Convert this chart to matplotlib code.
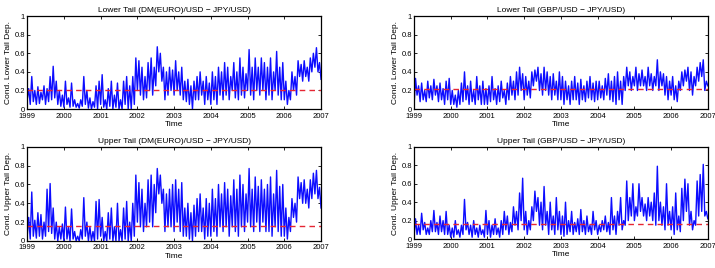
import numpy as np
import matplotlib
matplotlib.use("Agg")
import matplotlib.pyplot as plt

plt.rcParams["font.family"] = ["Liberation Sans", "DejaVu Sans"]

# conditional tail dependence, ~2 readings per month, 1999 .. 2007
lower_dm = [
    0.10, 0.22, 0.05, 0.35, 0.08, 0.20, 0.05, 0.24, 0.06, 0.18, 0.10, 0.25, 0.05, 0.22, 0.08, 0.35, 0.10, 0.46, 0.12, 0.30, 0.05, 0.20, 0.03, 0.15,
    0.02, 0.30, 0.05, 0.12, 0.02, 0.28, 0.03, 0.10, 0.02, 0.06, 0.01, 0.10, 0.03, 0.35, 0.05, 0.20, 0.01, 0.12, 0.00, 0.08, 0.02, 0.25, 0.00, 0.30,
    0.05, 0.37, 0.02, 0.10, 0.00, 0.22, 0.03, 0.30, 0.00, 0.15, 0.02, 0.28, 0.00, 0.10, 0.00, 0.30, 0.05, 0.35, 0.00, 0.25, 0.00, 0.35, 0.05, 0.55,
    0.20, 0.52, 0.15, 0.45, 0.10, 0.35, 0.12, 0.50, 0.20, 0.55, 0.15, 0.45, 0.25, 0.67, 0.40, 0.60, 0.30, 0.45, 0.10, 0.40, 0.15, 0.45, 0.20, 0.42,
    0.15, 0.52, 0.20, 0.40, 0.15, 0.45, 0.10, 0.30, 0.08, 0.32, 0.05, 0.25, 0.00, 0.30, 0.10, 0.35, 0.10, 0.40, 0.15, 0.30, 0.05, 0.35, 0.10, 0.28,
    0.05, 0.40, 0.10, 0.35, 0.05, 0.45, 0.15, 0.40, 0.10, 0.50, 0.15, 0.45, 0.10, 0.35, 0.20, 0.50, 0.12, 0.40, 0.10, 0.55, 0.15, 0.45, 0.12, 0.38,
    0.20, 0.64, 0.15, 0.45, 0.10, 0.55, 0.20, 0.45, 0.15, 0.55, 0.20, 0.50, 0.10, 0.45, 0.15, 0.55, 0.10, 0.40, 0.20, 0.62, 0.15, 0.45, 0.10, 0.50,
    0.10, 0.30, 0.05, 0.20, 0.10, 0.40, 0.20, 0.35, 0.15, 0.52, 0.35, 0.48, 0.30, 0.52, 0.35, 0.45, 0.30, 0.55, 0.40, 0.60, 0.45, 0.66, 0.40, 0.50,
    0.32,
]
upper_dm = [
    0.05, 0.25, 0.02, 0.52, 0.05, 0.22, 0.03, 0.30, 0.05, 0.28, 0.02, 0.20, 0.05, 0.55, 0.10, 0.61, 0.08, 0.35, 0.02, 0.20, 0.00, 0.15, 0.02, 0.18,
    0.00, 0.36, 0.02, 0.15, 0.00, 0.34, 0.02, 0.10, 0.00, 0.05, 0.00, 0.12, 0.02, 0.46, 0.05, 0.20, 0.00, 0.15, 0.00, 0.10, 0.00, 0.42, 0.02, 0.44,
    0.05, 0.25, 0.00, 0.10, 0.00, 0.30, 0.02, 0.35, 0.00, 0.15, 0.00, 0.40, 0.00, 0.12, 0.00, 0.35, 0.02, 0.42, 0.00, 0.20, 0.00, 0.40, 0.05, 0.70,
    0.20, 0.62, 0.15, 0.55, 0.10, 0.40, 0.15, 0.65, 0.20, 0.70, 0.15, 0.60, 0.30, 0.77, 0.50, 0.70, 0.40, 0.55, 0.10, 0.50, 0.15, 0.55, 0.15, 0.60,
    0.10, 0.65, 0.20, 0.55, 0.10, 0.62, 0.05, 0.35, 0.05, 0.40, 0.02, 0.30, 0.00, 0.38, 0.05, 0.45, 0.10, 0.50, 0.10, 0.35, 0.02, 0.45, 0.05, 0.40,
    0.05, 0.55, 0.10, 0.45, 0.05, 0.60, 0.15, 0.50, 0.10, 0.62, 0.15, 0.55, 0.05, 0.48, 0.15, 0.65, 0.10, 0.55, 0.05, 0.70, 0.15, 0.60, 0.10, 0.50,
    0.20, 0.77, 0.15, 0.55, 0.10, 0.68, 0.20, 0.58, 0.10, 0.65, 0.20, 0.55, 0.10, 0.60, 0.10, 0.68, 0.05, 0.50, 0.15, 0.75, 0.10, 0.58, 0.05, 0.60,
    0.05, 0.35, 0.02, 0.25, 0.10, 0.45, 0.25, 0.40, 0.20, 0.68, 0.45, 0.62, 0.40, 0.65, 0.40, 0.55, 0.35, 0.65, 0.45, 0.72, 0.50, 0.75, 0.45, 0.57,
    0.35,
]
lower_gbp = [
    0.02, 0.33, 0.15, 0.25, 0.08, 0.28, 0.10, 0.20, 0.08, 0.30, 0.12, 0.25, 0.10, 0.32, 0.15, 0.25, 0.08, 0.28, 0.10, 0.22, 0.05, 0.30, 0.10, 0.33,
    0.05, 0.20, 0.05, 0.15, 0.02, 0.20, 0.05, 0.28, 0.08, 0.40, 0.10, 0.25, 0.05, 0.30, 0.08, 0.20, 0.05, 0.35, 0.10, 0.25, 0.05, 0.30, 0.05, 0.22,
    0.05, 0.25, 0.08, 0.35, 0.10, 0.22, 0.05, 0.25, 0.08, 0.30, 0.12, 0.20, 0.05, 0.28, 0.10, 0.35, 0.15, 0.30, 0.10, 0.40, 0.15, 0.45, 0.20, 0.38,
    0.10, 0.35, 0.15, 0.30, 0.12, 0.40, 0.25, 0.42, 0.30, 0.45, 0.20, 0.38, 0.15, 0.45, 0.20, 0.40, 0.15, 0.35, 0.10, 0.38, 0.15, 0.30, 0.10, 0.40,
    0.10, 0.35, 0.05, 0.30, 0.10, 0.25, 0.05, 0.30, 0.10, 0.35, 0.10, 0.28, 0.05, 0.32, 0.10, 0.25, 0.08, 0.30, 0.12, 0.35, 0.10, 0.28, 0.08, 0.30,
    0.10, 0.30, 0.12, 0.25, 0.10, 0.33, 0.15, 0.38, 0.10, 0.30, 0.08, 0.35, 0.05, 0.40, 0.10, 0.30, 0.05, 0.35, 0.20, 0.45, 0.25, 0.40, 0.20, 0.35,
    0.25, 0.45, 0.20, 0.38, 0.25, 0.42, 0.25, 0.35, 0.20, 0.45, 0.25, 0.38, 0.20, 0.35, 0.25, 0.53, 0.20, 0.40, 0.25, 0.38, 0.15, 0.35, 0.10, 0.30,
    0.15, 0.35, 0.10, 0.25, 0.08, 0.30, 0.20, 0.40, 0.25, 0.42, 0.30, 0.45, 0.20, 0.40, 0.15, 0.35, 0.25, 0.45, 0.30, 0.50, 0.35, 0.53, 0.20, 0.30,
    0.25,
]
upper_gbp = [
    0.02, 0.22, 0.05, 0.15, 0.05, 0.28, 0.10, 0.18, 0.05, 0.12, 0.05, 0.20, 0.08, 0.31, 0.08, 0.18, 0.05, 0.25, 0.08, 0.20, 0.05, 0.30, 0.05, 0.15,
    0.02, 0.12, 0.02, 0.20, 0.05, 0.10, 0.02, 0.15, 0.05, 0.43, 0.10, 0.18, 0.05, 0.15, 0.02, 0.20, 0.05, 0.12, 0.02, 0.15, 0.05, 0.10, 0.02, 0.31,
    0.05, 0.20, 0.02, 0.15, 0.05, 0.22, 0.05, 0.12, 0.02, 0.20, 0.05, 0.30, 0.10, 0.25, 0.05, 0.18, 0.08, 0.35, 0.15, 0.30, 0.10, 0.50, 0.20, 0.66,
    0.10, 0.30, 0.05, 0.20, 0.10, 0.35, 0.20, 0.52, 0.30, 0.45, 0.15, 0.40, 0.10, 0.57, 0.15, 0.30, 0.05, 0.40, 0.10, 0.25, 0.05, 0.45, 0.10, 0.30,
    0.05, 0.25, 0.03, 0.40, 0.05, 0.20, 0.08, 0.30, 0.05, 0.18, 0.08, 0.22, 0.05, 0.32, 0.08, 0.20, 0.05, 0.25, 0.08, 0.15, 0.05, 0.30, 0.10, 0.20,
    0.05, 0.15, 0.08, 0.20, 0.10, 0.25, 0.08, 0.18, 0.05, 0.45, 0.10, 0.25, 0.05, 0.30, 0.15, 0.45, 0.10, 0.20, 0.15, 0.63, 0.20, 0.45, 0.25, 0.60,
    0.20, 0.35, 0.25, 0.60, 0.30, 0.45, 0.25, 0.38, 0.20, 0.45, 0.25, 0.40, 0.20, 0.50, 0.15, 0.79, 0.20, 0.40, 0.15, 0.35, 0.10, 0.60, 0.15, 0.30,
    0.10, 0.35, 0.05, 0.50, 0.10, 0.25, 0.08, 0.55, 0.20, 0.65, 0.30, 0.60, 0.15, 0.30, 0.10, 0.20, 0.15, 0.63, 0.25, 0.70, 0.30, 0.81, 0.25, 0.30,
    0.22,
]

# unconditional (constant) tail dependence levels
const_lower_dm, const_upper_dm = 0.21, 0.16
const_lower_gbp, const_upper_gbp = 0.22, 0.16

years = list(range(1999, 2008))
yticks = [0, 0.2, 0.4, 0.6, 0.8, 1]
ytick_labels = ["0", "0.2", "0.4", "0.6", "0.8", "1"]

panels = [
    # (series, const, title, ylabel, [left, bottom, width, height])
    (lower_dm, const_lower_dm, "Lower Tail (DM(EURO)/USD \u2212 JPY/USD)",
     "Cond. Lower Tail Dep.", [0.038, 0.593, 0.411, 0.347]),
    (lower_gbp, const_lower_gbp, "Lower Tail (GBP/USD \u2212 JPY/USD)",
     "Cond. Lower Tail Dep.", [0.579, 0.593, 0.411, 0.347]),
    (upper_dm, const_upper_dm, "Upper Tail (DM(EURO)/USD \u2212 JPY/USD)",
     "Cond. Upper Tail Dep.", [0.038, 0.101, 0.411, 0.351]),
    (upper_gbp, const_upper_gbp, "Upper Tail (GBP/USD \u2212 JPY/USD)",
     "Cond. Upper Tail Dep.", [0.579, 0.108, 0.411, 0.344]),
]

fig = plt.figure(figsize=(7.15, 2.68), dpi=100)
for series, const, title, ylabel, rect in panels:
    ax = fig.add_axes(rect)
    t = np.linspace(1999, 2007, len(series))
    ax.plot(t, series, color=(0.05, 0.05, 1.0), lw=1.0)
    ax.plot([1999, 2007], [const, const], color=(0.9, 0.15, 0.2), lw=1.0,
            ls=(0, (4, 3)))
    ax.set_xlim(1999, 2007)
    ax.set_ylim(0, 1)
    ax.set_xticks(years)
    ax.set_xticklabels([str(y) for y in years])
    ax.set_yticks(yticks)
    ax.set_yticklabels(ytick_labels)
    ax.tick_params(direction="in", length=2.5, width=0.6, labelsize=5.5,
                   top=True, right=True)
    ax.tick_params(axis="x", pad=2.5)
    ax.tick_params(axis="y", pad=1.5)
    for s in ax.spines.values():
        s.set_linewidth(0.9)
    ax.set_title(title, fontsize=6, pad=3)
    ax.set_xlabel("Time", fontsize=6, labelpad=1)
    ax.set_ylabel(ylabel, fontsize=6, labelpad=2)

fig.savefig("out.png", dpi=100)
